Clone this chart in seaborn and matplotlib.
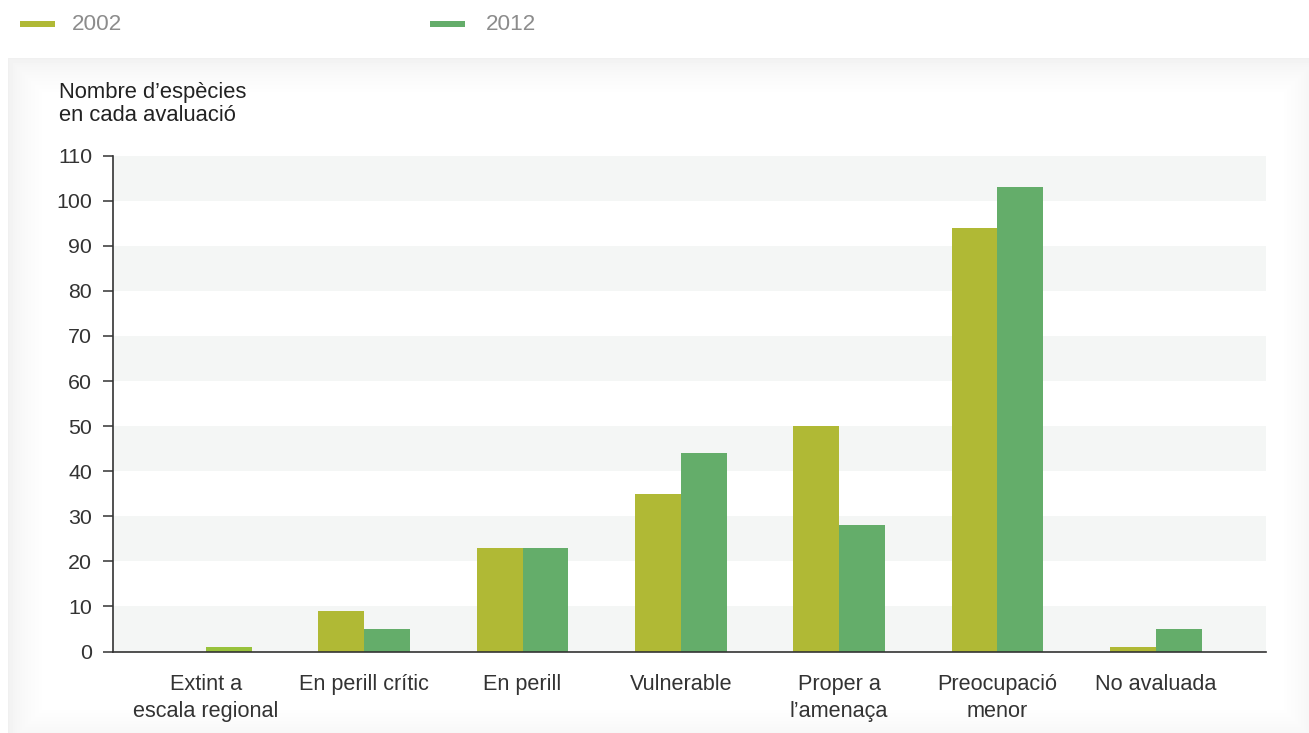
import numpy as np
import pandas as pd
import matplotlib
matplotlib.use("Agg")
import matplotlib.pyplot as plt
import seaborn as sns
from matplotlib.patches import Rectangle

# Species counts per IUCN category, two assessments
categories = [
    "Extint a\nescala regional",
    "En perill crític",
    "En perill",
    "Vulnerable",
    "Proper a\nl’amenaça",
    "Preocupació\nmenor",
    "No avaluada",
]
years = ["2002", "2012"]
values_2002 = [0, 9, 23, 35, 50, 94, 1]
values_2012 = [1, 5, 23, 44, 28, 103, 5]
y_ticks = list(range(0, 111, 10))
y_title = "Nombre d’espècies\nen cada avaluació"

palette = {"2002": "#b0b935", "2012": "#64ad6a"}
extinct_color = "#98c23c"
band_color = "#f4f6f5"
text_color = "#333333"

sns.set_theme(style="white")
plt.rcParams["font.family"] = ["Liberation Sans", "DejaVu Sans"]

df = pd.DataFrame({
    "categoria": categories * 2,
    "any": [years[0]] * len(categories) + [years[1]] * len(categories),
    "valor": values_2002 + values_2012,
})

W, H = 1309, 733
fig = plt.figure(figsize=(W / 100, H / 100), dpi=100)
fig.patch.set_facecolor("white")

# Soft grey card behind the chart, fading to white towards the inside
px0, py0, px1, py1 = 8, 58, 1309, 733
bg = fig.add_axes([px0 / W, 1 - py1 / H, (px1 - px0) / W, (py1 - py0) / H], zorder=-10)
gx = np.arange(px1 - px0)
gy = np.arange(py1 - py0)
XX, YY = np.meshgrid(gx, gy)
dist = np.minimum.reduce([XX, YY, (px1 - px0) - XX + 8, (py1 - py0) - YY + 10])
t = np.clip(dist / 38.0, 0, 1)
shade = 0.94 + 0.06 * t ** 0.6
bg.imshow(shade, cmap="gray", vmin=0, vmax=1, aspect="auto", interpolation="bilinear")
bg.set_axis_off()

# Plot area
left, right, top, bottom = 113, 1266, 155.7, 651.5
ax = fig.add_axes([left / W, 1 - bottom / H, (right - left) / W, (bottom - top) / H])
ax.set_facecolor("white")

for lo in range(0, 110, 20):
    ax.axhspan(lo, lo + 10, color=band_color, lw=0, zorder=0)

sns.barplot(
    data=df, x="categoria", y="valor", hue="any",
    order=categories, hue_order=years, palette=palette,
    width=0.58, gap=0, saturation=1, linewidth=0,
    legend=False, ax=ax, zorder=3,
)
ax.containers[1][0].set_facecolor(extinct_color)

ax.set_xlim(-0.587, 6.696)
ax.set_ylim(0, 110)
ax.set_yticks(y_ticks)
ax.set_xlabel("")
ax.set_ylabel("")

for side in ["top", "right"]:
    ax.spines[side].set_visible(False)
for side in ["left", "bottom"]:
    ax.spines[side].set_color(text_color)
    ax.spines[side].set_linewidth(1.2)
    ax.spines[side].set_zorder(5)

ax.tick_params(axis="y", length=7, width=1.1, color=text_color, pad=8,
               labelsize=15.4, labelcolor=text_color, left=True)
ax.tick_params(axis="x", length=0, pad=16.5, labelsize=15.6, labelcolor=text_color)
for lbl in ax.get_xticklabels():
    lbl.set_linespacing(1.33)

fig.text(59 / W, 1 - 82 / H, y_title, ha="left", va="top",
         fontsize=15.8, color="#222222", linespacing=1.12)

# Legend row above the card
legend_x = [(20, 72), (430, 486)]
for (rx, tx), yr in zip(legend_x, years):
    fig.add_artist(Rectangle((rx / W, 1 - 26.5 / H), 35 / W, 6 / H,
                             transform=fig.transFigure, color=palette[yr], lw=0))
    fig.text(tx / W, 1 - 24 / H, yr, ha="left", va="center",
             fontsize=16.2, color="#8c8c8c")

fig.savefig("out.png", dpi=100)
